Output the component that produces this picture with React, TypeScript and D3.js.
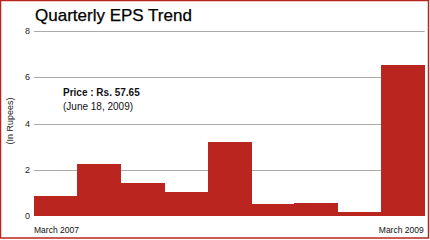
import React from "react";
import * as d3 from "d3";

const quarters = ["Mar 2007", "Jun 2007", "Sep 2007", "Dec 2007", "Mar 2008", "Jun 2008", "Sep 2008", "Dec 2008", "Mar 2009"];
const eps = [0.85, 2.23, 1.41, 1.02, 3.2, 0.5, 0.56, 0.16, 6.55];
const yTicks = [0, 2, 4, 6, 8];
const xLabels = ["March 2007", "March 2009"];
const title = "Quarterly EPS Trend";
const yTitle = "(In Rupees)";
const noteLines = ["Price : Rs. 57.65", "(June 18, 2009)"];

const W = 430;
const H = 240;
const RED = "#ba2520";
const FONT = "Liberation Sans, Arial, Helvetica, sans-serif";

export default function App() {
  const x = d3.scaleBand<string>().domain(quarters).range([34, 424.7]).padding(0);
  const y = d3.scaleLinear().domain([0, 8]).range([215.7, 31.3]);

  return (
    <svg
      width={W}
      height={H}
      style={{ position: "absolute", left: 0, top: 0, background: "#fff" }}
      fontFamily={FONT}
    >
      <rect x={0} y={0} width={W} height={H} fill="#fff" />
      <text x={35} y={21} fontSize={17} fill="#000" stroke="#000" strokeWidth={0.25}>{title}</text>
      {yTicks.filter((t) => t > 0).map((t) => (
        <line key={"g" + t} x1={34} x2={424.7} y1={Math.round(y(t)) + 0.5} y2={Math.round(y(t)) + 0.5} stroke="#aaa" strokeWidth={1} />
      ))}
      {yTicks.map((t) => (
        <text key={"t" + t} x={30} y={y(t) + 3} fontSize={9} textAnchor="end" fill="#222">{t}</text>
      ))}
      <g shapeRendering="crispEdges">
        {quarters.map((q, i) => (
          <rect key={q} x={x(q)} y={y(eps[i])} width={x.bandwidth() + 0.5} height={y(0) - y(eps[i])} fill={RED} />
        ))}
      </g>
      <text
        transform={`translate(13,121) rotate(-90)`}
        fontSize={9}
        textAnchor="middle"
        fill="#222"
      >
        {yTitle}
      </text>
      <text x={63} y={96} fontSize={10} fontWeight="bold" fill="#111">{noteLines[0]}</text>
      <text x={63} y={110} fontSize={10} fill="#111">{noteLines[1]}</text>
      <text x={x(quarters[0])} y={233} fontSize={8.5} fill="#111">{xLabels[0]}</text>
      <text x={(x(quarters[quarters.length - 1]) as number) + x.bandwidth() - 1} y={233} fontSize={8.5} textAnchor="end" fill="#111">{xLabels[1]}</text>
      <rect x={0.5} y={0.5} width={428} height={237.5} fill="none" stroke={RED} strokeWidth={1.5} />
    </svg>
  );
}
